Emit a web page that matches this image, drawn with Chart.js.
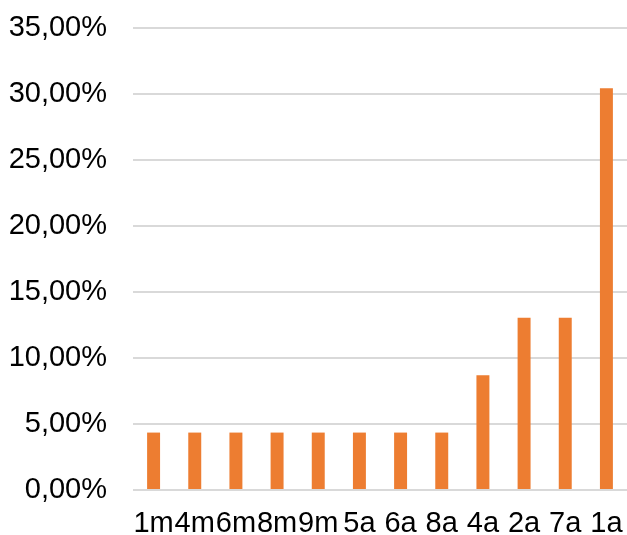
<!DOCTYPE html>
<html>
<head>
<meta charset="utf-8">
<script src="https://cdn.jsdelivr.net/npm/chart.js@4/dist/chart.umd.min.js"></script>
<style>
  html, body { margin: 0; padding: 0; background: #fff; }
  #wrap { width: 627px; height: 535px; position: relative; }
</style>
</head>
<body>
<div id="wrap"><canvas id="c"></canvas></div>
<script>
// Share of observations per maturity bucket (percent)
const categories = ['1m', '4m', '6m', '8m', '9m', '5a', '6a', '8a', '4a', '2a', '7a', '1a'];
const shares = [4.35, 4.35, 4.35, 4.35, 4.35, 4.35, 4.35, 4.35, 8.70, 13.04, 13.04, 30.43];
const yTicks = [0, 5, 10, 15, 20, 25, 30, 35];

const fmtPct = v => v.toFixed(2).replace('.', ',') + '%';
const labelFont = { family: 'Liberation Sans, Arial, sans-serif', size: 29 };

new Chart(document.getElementById('c'), {
  type: 'bar',
  data: {
    labels: categories,
    datasets: [{
      data: shares,
      backgroundColor: '#ED7D31',
      borderWidth: 0,
      categoryPercentage: 1,
      barPercentage: 0.315
    }]
  },
  options: {
    responsive: true,
    maintainAspectRatio: false,
    animation: false,
    layout: { padding: { top: 28, right: 0, left: 0, bottom: 0 } },
    plugins: { legend: { display: false }, tooltip: { enabled: false } },
    scales: {
      x: {
        grid: { display: false, drawTicks: false },
        border: { display: false },
        ticks: {
          autoSkip: false,
          maxRotation: 0,
          minRotation: 0,
          padding: 17,
          color: '#000',
          font: labelFont
        },
        afterFit(scale) {
          scale.height = 45;
          scale.paddingLeft = 0;
          scale.paddingRight = 0;
        }
      },
      y: {
        min: 0,
        max: 35,
        afterBuildTicks(scale) { scale.ticks = yTicks.map(v => ({ value: v })); },
        grid: { color: '#d9d9d9', lineWidth: 2, drawTicks: false },
        border: { display: false },
        ticks: {
          padding: 26,
          color: '#000',
          font: labelFont,
          callback: v => fmtPct(v)
        },
        afterFit(scale) {
          scale.width = 133;
          scale.paddingTop = 0;
          scale.paddingBottom = 0;
        }
      }
    }
  }
});
</script>
</body>
</html>
